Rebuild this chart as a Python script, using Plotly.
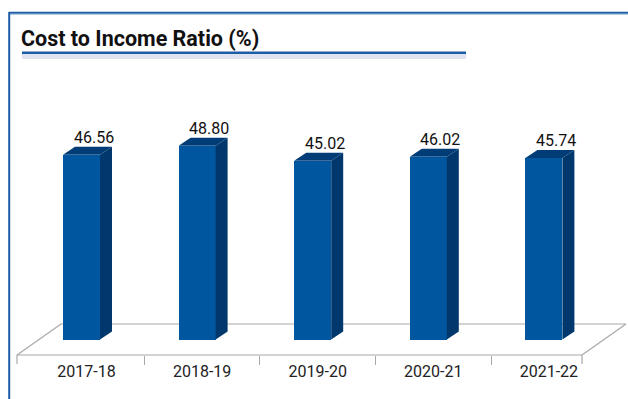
import plotly.graph_objects as go

# ---- data -------------------------------------------------------------
categories = ["2017-18", "2018-19", "2019-20", "2020-21", "2021-22"]
ratios = [46.56, 48.80, 45.02, 46.02, 45.74]
title_text = "Cost to Income Ratio (%)"

# ---- geometry -----------------------------------------------------------
W, H = 628, 399
M_L, M_R, M_T, M_B = 0, 0, 60, 44
PLOT_W = W - M_L - M_R
PLOT_H = H - M_T - M_B

CAT_PX = 115.6          # pixels per category slot
FIRST_PX = 86.5         # pixel centre of the first slot
Y_PX = 3.97             # pixels per percentage point
ZERO_UP = 15.5          # zero line sits this far above the plot bottom

x_range = [(0 - FIRST_PX) / CAT_PX, (PLOT_W - FIRST_PX) / CAT_PX]
y_range = [-ZERO_UP / Y_PX, (PLOT_H - ZERO_UP) / Y_PX]

BAR_W = 37 / CAT_PX
BAR_OFF = -23.5 / CAT_PX
DX = 12 / CAT_PX        # 3-D depth of each column
DY = 8 / Y_PX

FRONT = "#00569f"
SIDE = "#00376c"
TOP = "#003d77"
FLOOR = "#a8a8a8"
FRAME = "#1d5ca6"


def px(x):
    return (x - M_L) / PLOT_W


def py(y):
    return (H - M_B - y) / PLOT_H


xs = list(range(len(categories)))

fig = go.Figure()
fig.add_trace(go.Bar(
    x=xs, y=ratios, width=BAR_W, offset=BAR_OFF,
    marker=dict(color=FRONT, line=dict(width=0)),
    hoverinfo="skip",
))

shapes = []
annotations = []

# side and top faces of each column, plus its value label
for i, v in zip(xs, ratios):
    xl = i + BAR_OFF
    xr = xl + BAR_W
    shapes.append(dict(
        type="path", xref="x", yref="y", layer="above",
        path=f"M{xr},0 L{xr},{v} L{xr + DX},{v + DY} L{xr + DX},{DY} Z",
        fillcolor=SIDE, line=dict(width=0),
    ))
    shapes.append(dict(
        type="path", xref="x", yref="y", layer="above",
        path=f"M{xl},{v} L{xr},{v} L{xr + DX},{v + DY} L{xl + DX},{v + DY} Z",
        fillcolor=TOP, line=dict(width=0),
    ))
    annotations.append(dict(
        x=xl + BAR_W / 2 + DX, y=v + DY, xref="x", yref="y",
        text=f"{v:.2f}", showarrow=False, yanchor="bottom", xanchor="center",
        yshift=-2, font=dict(family="Roboto", size=16, color="#111111"),
    ))

# floor of the 3-D chart
floor_front_y = H - M_B
floor_back_y = floor_front_y - 31
fl, fr = 17, 582
depth_px = 44
floor_lines = [
    (fl, floor_front_y, fr, floor_front_y),
    (fl + depth_px, floor_back_y, fr + depth_px, floor_back_y),
    (fl, floor_front_y, fl + depth_px, floor_back_y),
    (fr, floor_front_y, fr + depth_px, floor_back_y),
    (fl, floor_front_y, fl, floor_front_y + 9),
    (fr, floor_front_y, fr, floor_front_y + 9),
]
for x0, y0, x1, y1 in floor_lines:
    shapes.append(dict(
        type="line", xref="paper", yref="paper", layer="below",
        x0=px(x0), y0=py(y0), x1=px(x1), y1=py(y1),
        line=dict(color=FLOOR, width=1.2),
    ))

# panel frame (top and left edges)
shapes += [
    dict(type="line", xref="paper", yref="paper",
         x0=px(9), x1=px(W + 2), y0=py(12.8), y1=py(12.8),
         line=dict(color=FRAME, width=2)),
    dict(type="line", xref="paper", yref="paper",
         x0=px(10), x1=px(W + 2), y0=py(14.4), y1=py(14.4),
         line=dict(color="#a9c4e4", width=1)),
    dict(type="line", xref="paper", yref="paper",
         x0=px(9.2), x1=px(9.2), y0=py(12), y1=py(H + 2),
         line=dict(color=FRAME, width=2)),
]

# underline beneath the heading
shapes += [
    dict(type="rect", xref="paper", yref="paper",
         x0=px(22), x1=px(466), y0=py(54), y1=py(59),
         fillcolor="#dfe3f0", line=dict(width=0)),
    dict(type="line", xref="paper", yref="paper",
         x0=px(22), x1=px(466), y0=py(52.8), y1=py(52.8),
         line=dict(color=FRAME, width=2.4)),
]

fig.update_layout(
    width=W, height=H,
    margin=dict(l=M_L, r=M_R, t=M_T, b=M_B, pad=0),
    paper_bgcolor="white", plot_bgcolor="white",
    showlegend=False,
    title=dict(
        text=f"<b>{title_text}</b>", xref="container", yref="container",
        x=21 / W, xanchor="left", y=1 - 38 / H, yanchor="middle",
        font=dict(family="Roboto", size=21.5, color="#111111"),
    ),
    xaxis=dict(
        range=x_range, tickvals=xs, ticktext=categories,
        showgrid=False, zeroline=False, showline=False, ticks="",
        tickfont=dict(family="Roboto", size=16, color="#222222"),
        ticklabelstandoff=5,
        minor=dict(tickvals=[i + 0.5 for i in xs[:-1]], ticks="outside",
                   ticklen=9, tickcolor=FLOOR, tickwidth=1.2, showgrid=False),
        fixedrange=True,
    ),
    yaxis=dict(range=y_range, visible=False, showgrid=False, zeroline=False,
               fixedrange=True),
    shapes=shapes, annotations=annotations,
    bargap=0,
)

fig.write_html("out.html")
